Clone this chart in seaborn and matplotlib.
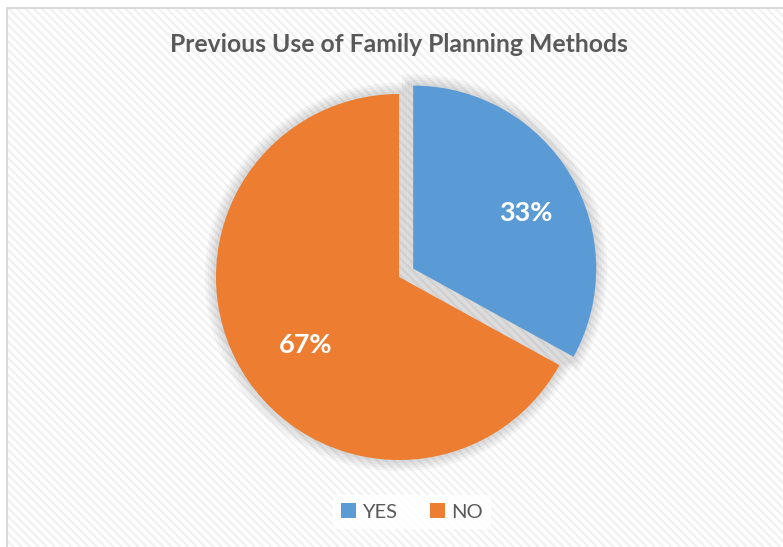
import matplotlib
matplotlib.use("Agg")
import matplotlib.pyplot as plt
import matplotlib.patheffects as pe
import matplotlib.transforms as mtransforms
from matplotlib.patches import Rectangle
from matplotlib.lines import Line2D
import seaborn as sns

# data
labels = ["YES", "NO"]
shares = [33, 67]
slice_colors = ["#5B9BD5", "#ED7D31"]
title = "Previous Use of Family Planning Methods"

sns.set_theme(style="white")
plt.rcParams['font.family'] = ['Lato', 'DejaVu Sans']

W, H = 783, 547
fig = plt.figure(figsize=(W / 100, H / 100), dpi=100)
fig.patch.set_facecolor("white")

# faint diagonal stripes of the chart area
plt.rcParams['hatch.linewidth'] = 1.6
bg = Rectangle((8 / W, 0), 1, 1 - 9 / H, transform=fig.transFigure,
               facecolor="white", edgecolor="#f1f1f1", hatch="\\\\\\\\", lw=0, zorder=-5)
fig.patches.append(bg)
# chart border (left and top visible)
fig.add_artist(Line2D([7 / W, 7 / W], [0, 1 - 8 / H], transform=fig.transFigure,
                      color="#d9d9d9", lw=1.5, zorder=-4))
fig.add_artist(Line2D([7 / W, 1], [1 - 8 / H, 1 - 8 / H], transform=fig.transFigure,
                      color="#d9d9d9", lw=1.5, zorder=-4))

ax = fig.add_axes([0, 0, 1, 1])
ax.set_facecolor("none")
ax.set_xlim(0, W)
ax.set_ylim(0, H)
ax.set_aspect("equal")
ax.axis("off")

center = (399, H - 277)
radius = 183
explode = [16.5, 0]   # pie explode is in data units (pixels here)

# soft shadow around the slices
glow = [pe.Stroke(linewidth=w, foreground="black", alpha=0.035) for w in (16, 12, 8, 4)]
ax.pie(shares, colors=["#cccccc"] * 2, startangle=90, counterclock=False,
       explode=explode, center=center, radius=radius, frame=True,
       wedgeprops=dict(linewidth=0, path_effects=glow))

wedges, _, autotexts = ax.pie(
    shares, colors=slice_colors, startangle=90, counterclock=False,
    explode=explode, center=center, radius=radius, frame=True,
    autopct="%d%%", pctdistance=0.66,
    wedgeprops=dict(linewidth=0),
    textprops=dict(color="white", fontsize=19.5, fontweight="bold"))
ax.set_xlim(0, W)
ax.set_ylim(0, H)
ax.axis("off")

# nudge the percentage labels a little (points) to sit like the original
nudges = [(6, -4.5), (7.5, -5)]
for t, (dx, dy) in zip(autotexts, nudges):
    t.set_transform(mtransforms.offset_copy(ax.transData, fig=fig, x=dx, y=dy, units="points"))

fig.text(399 / W, 1 - 45 / H, title, ha="center", va="center",
         fontsize=17.8, fontweight="bold", color="#595959")

leg = fig.legend(wedges, labels, loc="center", bbox_to_anchor=(412 / W, 1 - 512 / H),
                 ncol=2, frameon=True, facecolor="white", edgecolor="none",
                 framealpha=0.85, handlelength=0.75, handleheight=0.75,
                 handletextpad=0.3, columnspacing=1.6, fontsize=14.5)
for t in leg.get_texts():
    t.set_color("#595959")

fig.savefig("out.png", dpi=100)
